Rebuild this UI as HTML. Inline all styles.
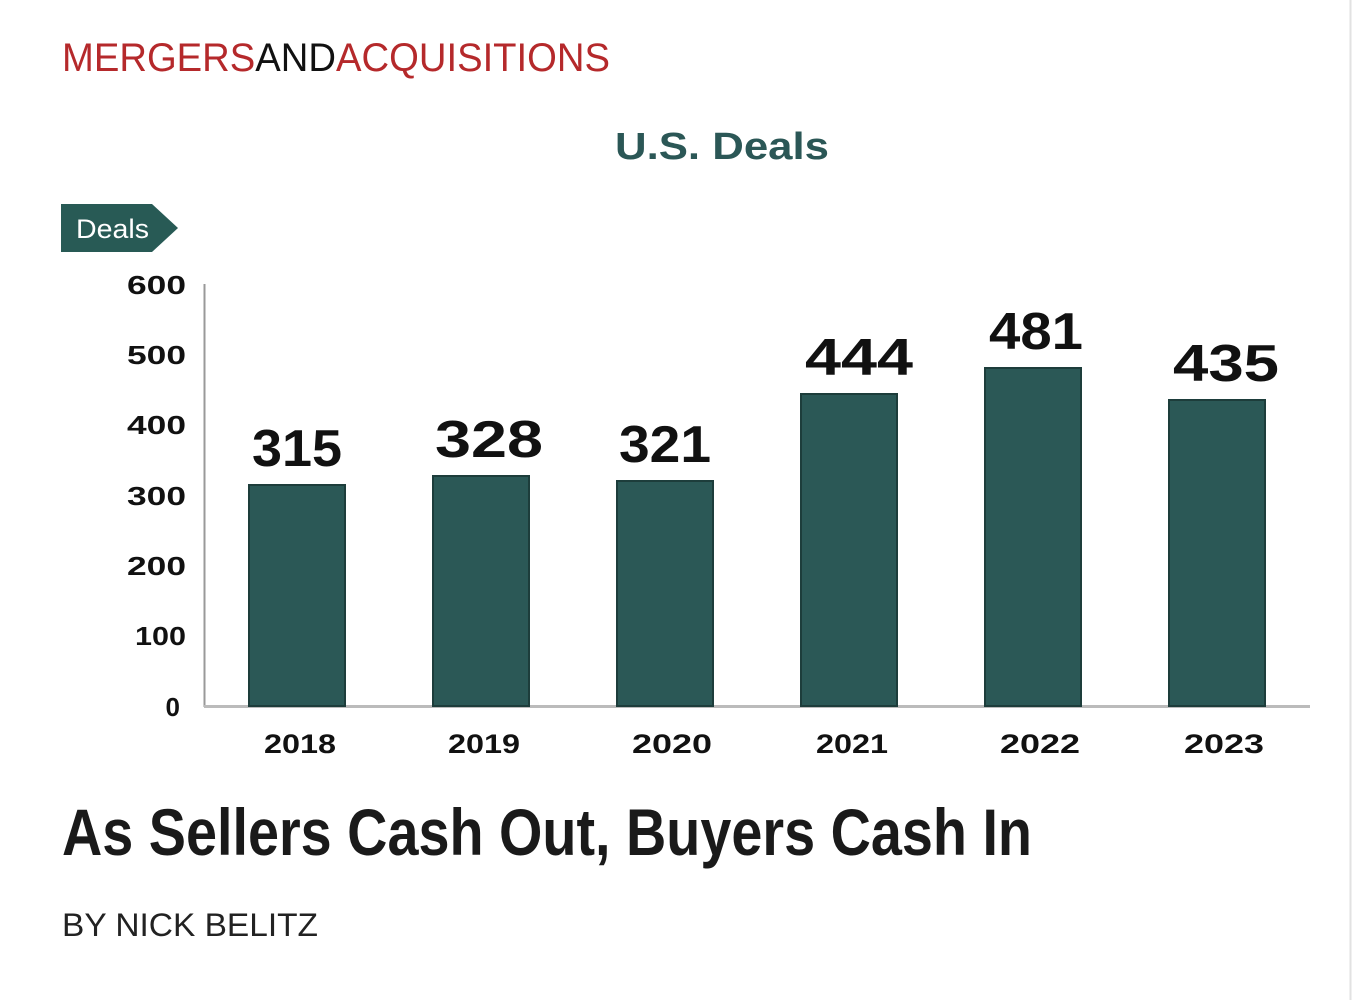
<!DOCTYPE html>
<html><head><meta charset="utf-8"><style>
html,body{margin:0;padding:0;background:#fff;width:1352px;height:1000px;overflow:hidden}
svg{display:block}
</style></head><body>
<svg width="1352" height="1000" xmlns="http://www.w3.org/2000/svg" font-family="Liberation Sans, sans-serif">
<line x1="1350.5" y1="0" x2="1350.5" y2="1000" stroke="#e2e2e2" stroke-width="2"/>
<text x="62" y="71" font-size="40" textLength="548" lengthAdjust="spacingAndGlyphs"><tspan fill="#b5292b">MERGERS</tspan><tspan fill="#111">AND</tspan><tspan fill="#b5292b">ACQUISITIONS</tspan></text>
<text x="722" y="159" font-size="38" font-weight="bold" fill="#2b5756" text-anchor="middle" textLength="214" lengthAdjust="spacingAndGlyphs">U.S. Deals</text>
<polygon points="61,204 152,204 178,228 152,252 61,252" fill="#285a55"/>
<text x="76" y="238" font-size="27" fill="#fff" textLength="73" lengthAdjust="spacingAndGlyphs">Deals</text>
<line x1="204.5" y1="284" x2="204.5" y2="707" stroke="#999" stroke-width="2"/>
<line x1="204" y1="706.5" x2="1310" y2="706.5" stroke="#bbb" stroke-width="3"/>
<g font-size="26" font-weight="bold" fill="#111" text-anchor="end">
<text x="186" y="294" textLength="59" lengthAdjust="spacingAndGlyphs">600</text>
<text x="186" y="364" textLength="59" lengthAdjust="spacingAndGlyphs">500</text>
<text x="186" y="434" textLength="59" lengthAdjust="spacingAndGlyphs">400</text>
<text x="186" y="505" textLength="59" lengthAdjust="spacingAndGlyphs">300</text>
<text x="186" y="575" textLength="59" lengthAdjust="spacingAndGlyphs">200</text>
<text x="186" y="645" textLength="51" lengthAdjust="spacingAndGlyphs">100</text>
<text x="180" y="716">0</text>
</g>
<g fill="#2b5856" stroke="#1d3d3b" stroke-width="2">
<rect x="249" y="485" width="96" height="221"/>
<rect x="433" y="476" width="96" height="230"/>
<rect x="617" y="481" width="96" height="225"/>
<rect x="801" y="394" width="96" height="312"/>
<rect x="985" y="368" width="96" height="338"/>
<rect x="1169" y="400" width="96" height="306"/>
</g>
<g font-size="52" font-weight="bold" fill="#111" text-anchor="middle">
<text x="297" y="466" textLength="90" lengthAdjust="spacingAndGlyphs">315</text>
<text x="489" y="457" textLength="108" lengthAdjust="spacingAndGlyphs">328</text>
<text x="665" y="462" textLength="92" lengthAdjust="spacingAndGlyphs">321</text>
<text x="859" y="375" textLength="108" lengthAdjust="spacingAndGlyphs">444</text>
<text x="1036" y="349" textLength="94" lengthAdjust="spacingAndGlyphs">481</text>
<text x="1226" y="381" textLength="106" lengthAdjust="spacingAndGlyphs">435</text>
</g>
<g font-size="27" font-weight="bold" fill="#111" text-anchor="middle">
<text x="300" y="753" textLength="72" lengthAdjust="spacingAndGlyphs">2018</text>
<text x="484" y="753" textLength="72" lengthAdjust="spacingAndGlyphs">2019</text>
<text x="672" y="753" textLength="80" lengthAdjust="spacingAndGlyphs">2020</text>
<text x="852" y="753" textLength="72" lengthAdjust="spacingAndGlyphs">2021</text>
<text x="1040" y="753" textLength="80" lengthAdjust="spacingAndGlyphs">2022</text>
<text x="1224" y="753" textLength="80" lengthAdjust="spacingAndGlyphs">2023</text>
</g>
<text x="62" y="855" font-family="Liberation Sans Narrow, Liberation Sans, sans-serif" font-size="66" font-weight="bold" fill="#1a1a1a" textLength="970" lengthAdjust="spacingAndGlyphs">As Sellers Cash Out, Buyers Cash In</text>
<text x="62" y="936" font-size="32" fill="#222" textLength="256" lengthAdjust="spacingAndGlyphs">BY NICK BELITZ</text>
</svg>
</body></html>
